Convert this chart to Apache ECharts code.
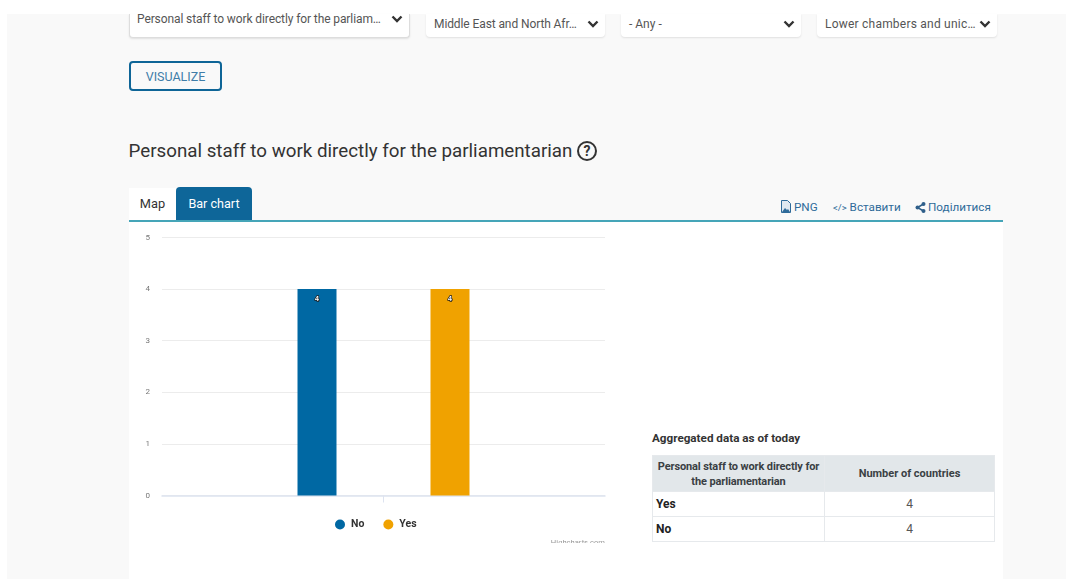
<!DOCTYPE html>
<html><head><meta charset="utf-8">
<style>
html,body{margin:0;padding:0;width:1066px;height:579px;overflow:hidden;background:#fff;font-family:Roboto,sans-serif}
.abs{position:absolute;box-sizing:border-box;white-space:nowrap}
#bg{left:7px;top:14px;width:1059px;height:565px;background:#f9f9f9}
.sel{background:#fff;border-radius:0 0 4px 4px;box-shadow:0 1px 2px rgba(0,0,0,.1);color:#555;font-size:12px}
.sel span{position:absolute;left:8px}
.sel svg{position:absolute;width:12px;height:8px}
#chart{left:129px;top:222px;width:490px;height:321px;overflow:hidden}
table{border-collapse:collapse;table-layout:fixed;font-size:11.5px;color:#333}
td,th{border:1px solid #e6e9ec;text-align:center;padding:0}
th{background:#e2e7ea;font-weight:700;line-height:15px;color:#3a3f44;font-size:11px}
th:first-child{letter-spacing:-.12px}
td:first-child{text-align:left;padding-left:3px;font-weight:700;color:#222;font-size:12px}
td:last-child{color:#555;font-size:12px}
.lnk{color:#2f6b9a;font-size:11.7px;top:200px}
</style></head><body>
<div class="abs" id="bg"></div>
<div class="abs" style="left:129px;top:222px;width:874px;height:357px;background:#fff"></div>

<div class="abs sel" style="left:129px;top:14px;width:281px;height:24px;border:1px solid #ddd;border-top:none"><span style="top:-2px;left:7px;letter-spacing:-.1px">Personal staff to work directly for the parliam…</span><svg style="left:261px;top:1px" viewBox="0 0 12 8"><path d="M1.5 1.5L6 6l4.5-4.5" fill="none" stroke="#333" stroke-width="2.4"/></svg></div>
<div class="abs sel" style="left:426px;top:14px;width:179px;height:23px"><span style="top:2.5px;letter-spacing:-.1px">Middle East and North Afr…</span><svg style="left:161px;top:6px" viewBox="0 0 12 8"><path d="M1.5 1.5L6 6l4.5-4.5" fill="none" stroke="#333" stroke-width="2.4"/></svg></div>
<div class="abs sel" style="left:621px;top:14px;width:180px;height:23px"><span style="top:2.5px">- Any -</span><svg style="left:162px;top:6px" viewBox="0 0 12 8"><path d="M1.5 1.5L6 6l4.5-4.5" fill="none" stroke="#333" stroke-width="2.4"/></svg></div>
<div class="abs sel" style="left:817px;top:14px;width:180px;height:23px"><span style="top:2.5px;letter-spacing:.22px">Lower chambers and unic…</span><svg style="left:162px;top:6px" viewBox="0 0 12 8"><path d="M1.5 1.5L6 6l4.5-4.5" fill="none" stroke="#333" stroke-width="2.4"/></svg></div>

<div class="abs" style="left:129px;top:61px;width:93px;height:30px;border:2px solid #0e6597;border-radius:4px;color:#3f7da8;font-size:12.5px;text-align:center;line-height:27px">VISUALIZE</div>

<div class="abs" style="left:128.5px;top:138px;font-size:18.75px;line-height:26px;color:#333">Personal staff to work directly for the parliamentarian</div>
<svg class="abs" style="left:576px;top:140px" width="22" height="22" viewBox="0 0 22 22"><circle cx="11" cy="11" r="9" fill="none" stroke="#333" stroke-width="2"/><text x="11" y="16" font-size="14" font-weight="700" text-anchor="middle" fill="#333" font-family="Roboto">?</text></svg>

<div class="abs" style="left:129px;top:188px;width:47px;height:32px;background:#fff;color:#333;font-size:12.8px;text-align:center;line-height:31px">Map</div>
<div class="abs" style="left:176px;top:187px;width:76px;height:33px;background:#0e6699;border-radius:4px 4px 0 0;color:#fff;font-size:12.6px;text-align:center;line-height:33px">Bar chart</div>
<div class="abs" style="left:129px;top:220px;width:874px;height:2px;background:#45a5b8"></div>

<svg class="abs" style="left:780px;top:200px" width="12" height="13" viewBox="0 0 12 13"><path d="M1.5 .5h6l3 3v9h-9z" fill="#dfe8f0" stroke="#2f6b9a"/><path d="M2 12l3-4 2 2 1-1 2 3z" fill="#2f6b9a"/></svg>
<div class="abs lnk" style="left:794px">PNG</div>
<div class="abs lnk" style="left:833px"><span style="font-size:9.5px">&lt;/&gt;</span> Вставити</div>
<svg class="abs" style="left:915px;top:202px" width="11" height="11" viewBox="0 0 11 11"><path d="M8.5 2L2.5 5.5l6 3.5" stroke="#2f5f8a" stroke-width="1.5" fill="none"/><circle cx="8.5" cy="2" r="2" fill="#2f5f8a"/><circle cx="2.5" cy="5.5" r="2" fill="#2f5f8a"/><circle cx="8.5" cy="9" r="2" fill="#2f5f8a"/></svg>
<div class="abs lnk" style="left:928px">Поділитися</div>

<div class="abs" id="chart"></div>

<div class="abs" style="left:652px;top:431px;font-size:11.7px;font-weight:700;color:#333;line-height:15px">Aggregated data as of today</div>
<table class="abs" id="tbl" style="left:652px;top:455px;width:343px"></table>

<script src="https://cdn.jsdelivr.net/npm/echarts@6/dist/echarts.min.js"></script>
<script>
const categories = [""];
const seriesNames = ["No", "Yes"];
const noValues = [4];
const yesValues = [4];
const seriesColors = ["#0068a3", "#f0a200"];
const yTicks = [0, 1, 2, 3, 4, 5];
const tableHeaders = ["Personal staff to work directly for the parliamentarian", "Number of countries"];
const tableLabels = ["Yes", "No"];
const tableCounts = [4, 4];

const labelStyle = {
  show: true, position: "insideTop", distance: 6, formatter: "{c}",
  fontSize: 7, fontWeight: "bold", color: "#fff",
  textBorderColor: "#222", textBorderWidth: 1.5
};
const chart = echarts.init(document.getElementById("chart"), null, {renderer: "canvas"});
chart.setOption({
  animation: false,
  grid: {left: 33, right: 14, top: 15.5, bottom: 47.5, containLabel: false},
  xAxis: {
    type: "category", data: categories,
    axisLine: {lineStyle: {color: "#dde3f0", width: 1.5}},
    axisTick: {show: true, alignWithLabel: true, length: 7, lineStyle: {color: "#dde3f0"}},
    axisLabel: {show: false}
  },
  yAxis: {
    type: "value", min: yTicks[0], max: yTicks[yTicks.length - 1], interval: 1,
    axisLine: {show: false}, axisTick: {show: false},
    axisLabel: {color: "#777", fontSize: 8, margin: 12, fontFamily: "Roboto"},
    splitLine: {lineStyle: {color: "#ececec", width: 1}}
  },
  legend: {
    data: seriesNames, icon: "circle", itemWidth: 10, itemHeight: 10, itemGap: 19,
    left: 201, top: 292, selectedMode: false,
    textStyle: {color: "#333", fontSize: 10.5, fontWeight: "bold", fontFamily: "Roboto", padding: [-3,0,0,1]}
  },
  graphic: [{type: "text", right: 14, top: 317,
    style: {text: "Highcharts.com", fill: "#999", font: "7.6px Roboto"}}],
  series: [
    {name: seriesNames[0], type: "bar", data: noValues, barWidth: 39, barGap: "241%",
     itemStyle: {color: seriesColors[0]}, label: labelStyle},
    {name: seriesNames[1], type: "bar", data: yesValues, barWidth: 39,
     itemStyle: {color: seriesColors[1]}, label: labelStyle}
  ]
});

const tbl = document.getElementById("tbl");
let html = '<colgroup><col style="width:172px"><col></colgroup>';
html += '<tr style="height:36px">' + tableHeaders.map(h => '<th style="white-space:normal">' + h + '</th>').join("") + '</tr>';
tableLabels.forEach((l, i) => { html += '<tr style="height:25px"><td>' + l + '</td><td>' + tableCounts[i] + '</td></tr>'; });
tbl.innerHTML = html;
</script>
</body></html>
